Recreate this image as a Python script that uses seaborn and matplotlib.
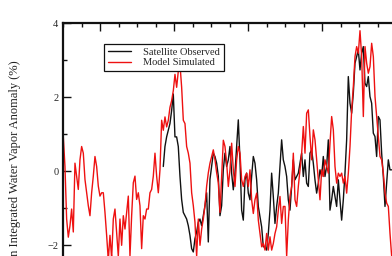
import numpy as np
import matplotlib
matplotlib.use("Agg")
import matplotlib.pyplot as plt
import seaborn as sns

# ---- data ----
model_start = 1982.0
sat_start = 1987.405
step = 0.0901  # years between samples

model = [0.93, 0.13, -1.29, -1.78, -1.47, -1.02, -1.64, 0.22, -0.13, -0.49,
         0.31, 0.67, 0.49, -0.22, -0.58, -0.93, -1.20, -0.58, -0.13, 0.40,
         0.13, -0.40, -0.67, -0.58, -0.58, -1.11, -1.73, -2.40, -1.73, -2.35,
         -1.29, -1.02, -1.64, -2.30, -1.29, -2.00, -1.20, -1.56, -1.11, -0.67,
         -2.30, -1.20, -0.31, -0.13, -0.76, -0.58, -0.93, -2.09, -1.20, -1.29,
         -1.02, -1.02, -0.58, -0.49, -0.13, 0.49, -0.13, -0.58, 0.04, 1.38,
         1.11, 1.47, 1.20, 1.38, 1.73, 1.91, 2.18, 2.62, 2.27, 2.71,
         2.89, 2.27, 1.38, 1.29, 0.67, 0.49, 0.22, -0.58, -0.93, -1.38,
         -2.30, -1.29, -2.00, -1.56, -1.29, -0.93, -0.40, -0.04, 0.22, 0.40,
         0.58, 0.31, -0.04, -0.31, -1.11, -0.13, 0.84,
         0.67, 0.22, -0.41, 0.04, 0.76, 0.04, -0.41, 0.31, 0.67, 0.49,
         -0.23, -0.41, -0.14, -0.05, -0.41, 0.04, -0.77, -1.14, -0.77, -0.59,
         -1.32, -1.68, -2.04, -1.95, -2.13, -1.68, -2.13, -1.77, -2.13, -1.95,
         -1.68, -1.50, -1.05, -0.68, -1.41, -0.95, -0.95, -2.30, -1.32, -0.68,
         -0.41, 0.49, -0.77, -0.95, -0.41, 0.04, 0.49, 1.21, 0.49, 1.57,
         1.66, 0.94, 0.31, 1.12, 0.85, 0.31, -0.23, -0.77, 0.04, -0.14,
         0.31, 0.13, -0.05, 0.76, 1.48, 1.12, 0.13, -0.32, -0.05, -0.14,
         -0.05, -0.32, -0.14, -0.59, -0.05, 0.67, 1.66, 2.29, 3.10, 3.37,
         3.19, 3.80, 3.10, 1.48, 3.37, 2.92, 2.65, 2.83, 3.46, 3.10,
         2.02, 1.48, 0.94, 0.40, 0.31, -0.05, -0.59, -0.86, -0.95, -1.68,
         -2.30]

satellite = [0.13, 0.67, 0.93, 1.11, 1.29, 1.64, 2.09, 0.93, 0.93, 0.67,
             -0.13, -0.76, -1.11, -1.20, -1.29, -1.47, -1.73, -2.09, -2.18, -1.82,
             -1.64, -1.38, -1.29, -1.47, -1.20, -0.93, -0.58, -1.91, -0.22, 0.13,
             0.49, 0.40, 0.22, -0.13, -1.20, -0.93, 0.04,
             0.49, 0.13, 0.31, 0.67, -0.05, -0.50, -0.05, 0.67, 1.39, 0.31,
             -1.05, -1.32, -0.23, -0.05, -0.59, -0.77, -0.14, 0.40, 0.22, -0.23,
             -0.95, -1.23, -1.50, -2.04, -2.04, -2.13, -1.68, -1.05, -0.05, -0.68,
             -1.41, -0.95, -0.59, 0.13, 0.85, 0.31, 0.13, -0.14, -0.77, -1.05,
             -0.41, 0.31, -0.23, -0.14, -0.05, 0.22, 0.49, -0.14, 0.31, -0.32,
             -0.41, 0.49, 0.58, 0.22, -0.23, -0.59, -0.32, 0.04, -0.14, 0.40,
             -0.14, 0.13, 0.85, -1.05, -0.77, -0.41, -0.68, -0.95, -0.23, -0.77,
             -1.32, -0.77, -0.05, 0.85, 2.56, 1.84, 1.57, 2.11, 2.92, 3.10,
             3.28, 2.74, 3.19, 3.37, 2.38, 2.29, 2.56, 2.02, 1.84, 1.03,
             0.94, 0.40, 1.48, 1.39, 0.49, -0.14, -0.95, -0.32, 0.31, 0.04,
             0.04]

series_labels = ["Satellite Observed", "Model Simulated"]
ylabel_text = "Mean Integrated Water Vapor Anomaly (%)"
yticks = [-2, 0, 2, 4]

t_model = model_start + np.arange(len(model)) * step
t_sat = sat_start + np.arange(len(satellite)) * step

# ---- style ----
sns.set_theme(style="ticks")
plt.rcParams["font.family"] = ["Liberation Serif", "DejaVu Serif"]
plt.rcParams["axes.unicode_minus"] = True

W, H = 392, 256
fig = plt.figure(figsize=(W / 100, H / 100), dpi=100)
fig.patch.set_facecolor("white")

# axes extend past the figure (the reference is a crop)
x0_px, top_px = 63.3, 23.3
px_per_year = 18.5
px_per_unit = 37.0
xmin, xmax = 1982.0, 2004.0
ymin, ymax = -4.0, 4.0
ax_w = (xmax - xmin) * px_per_year
ax_h = (ymax - ymin) * px_per_unit
ax = fig.add_axes([x0_px / W, 1 - (top_px + ax_h) / H, ax_w / W, ax_h / H])

sns.lineplot(x=t_sat, y=satellite, ax=ax, color="#111111", linewidth=1.0,
             label=series_labels[0], sort=False)
sns.lineplot(x=t_model, y=model, ax=ax, color="#ee1111", linewidth=1.0,
             label=series_labels[1], sort=False)

ax.set_xlim(xmin, xmax)
ax.set_ylim(ymin, ymax)
ax.set_xticks(np.arange(1984, 2004, 4))
ax.set_xticks(np.arange(1982, 2004, 1), minor=True)
ax.set_yticks(yticks)
ax.set_yticks([-3, -1, 1, 3], minor=True)
ax.set_yticklabels([str(v).replace("-", "\u2212") for v in yticks])
ax.set_xticklabels([])
ax.set_xlabel("")
ax.set_ylabel("")

for s in ax.spines.values():
    s.set_linewidth(1.6)
    s.set_color("#111111")
    s.set_visible(True)

ax.tick_params(which="both", direction="in", top=True, right=True,
               color="#111111", width=1.0)
ax.tick_params(which="major", length=5.8, labelsize=7.5, pad=3.5)
ax.tick_params(which="minor", length=3.0)

leg = ax.legend(loc="upper left", bbox_to_anchor=(0.1, 0.930),
                borderaxespad=0, frameon=True, fancybox=False, shadow=False,
                fontsize=7.5, handlelength=2.2, handletextpad=1.2,
                borderpad=0.35, labelspacing=0.1)
leg.get_frame().set_edgecolor("#111111")
leg.get_frame().set_linewidth(0.9)
leg.get_frame().set_alpha(1)

fig.text(15 / W, 1 - 60 / H, ylabel_text, rotation=90, ha="center",
         va="top", fontsize=9, color="#222222")

fig.savefig("out.png", dpi=100)
